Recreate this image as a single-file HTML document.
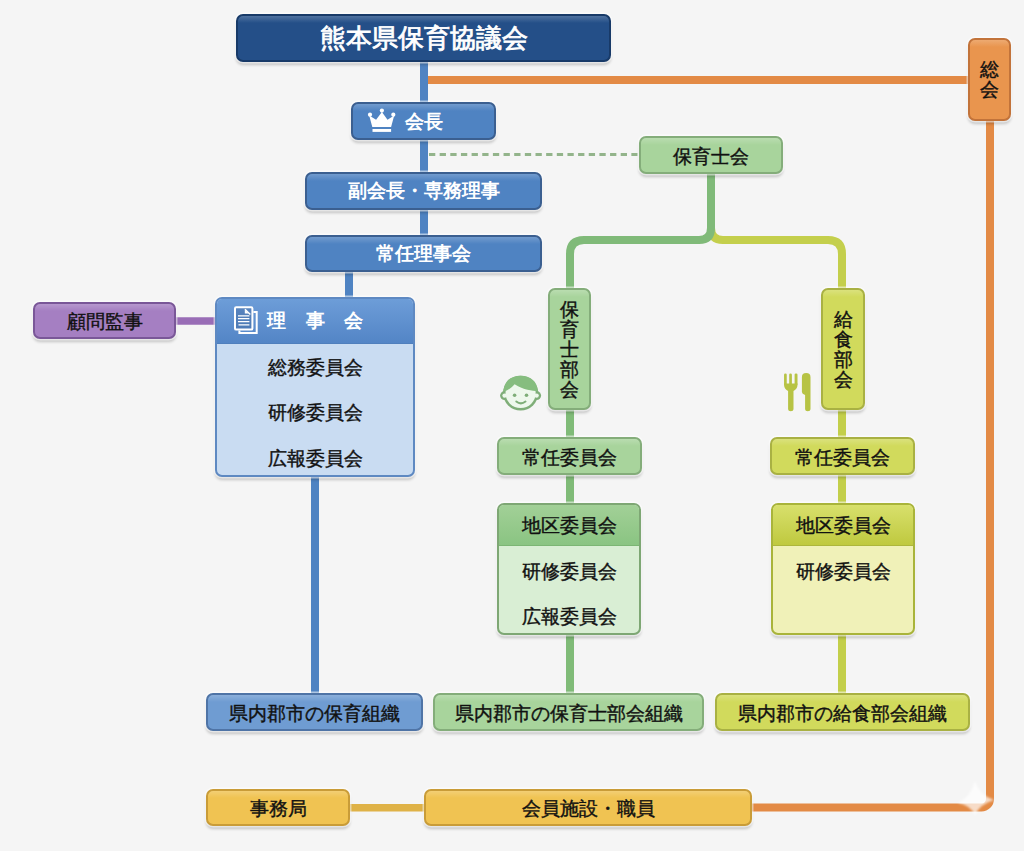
<!DOCTYPE html>
<html><head><meta charset="utf-8">
<style>
html,body{margin:0;padding:0;}
body{width:1024px;height:851px;overflow:hidden;position:relative;background:#f5f5f5;font-family:"Liberation Sans",sans-serif;}
svg.abs{position:absolute;left:0;top:0;}
.b{position:absolute;box-sizing:border-box;border-radius:7px;border:2px solid;display:flex;align-items:center;justify-content:center;box-shadow:0 0 0 1.5px rgba(255,255,255,.55),0 3px 3px rgba(0,0,0,.2);font-size:19px;color:#111;white-space:nowrap;line-height:1;padding-top:2px;background-image:linear-gradient(rgba(255,255,255,.2),rgba(255,255,255,0) 7px);}
.w{color:#fff;font-weight:bold;}
.b.w{padding-top:0;padding-bottom:1px;}
.k{-webkit-text-stroke:0.4px #111;}
.blue{background-color:#4f83c2;border-color:#3b5f90;}
.navy{background-color:#244f88;border-color:#183a68;}
.purple{background-color:#a57fc2;border-color:#7a5798;}
.green{background-color:#a8d49c;border-color:#84ad7a;}
.yellow{background-color:#d1da5c;border-color:#a9b143;}
.orange{background-color:#e9954e;border-color:#c2733a;}
.gold{background-color:#f0c352;border-color:#c99c38;}
.vt{flex-direction:column;}
.vt span{display:block;height:20px;line-height:20px;}
.row{position:absolute;left:0;right:0;text-align:center;height:20px;line-height:20px;}
</style></head><body>
<svg class="abs" width="1024" height="851" viewBox="0 0 1024 851">
  <line x1="424" y1="60" x2="424" y2="236" stroke="#4f83c2" stroke-width="8"/>
  <line x1="349" y1="270" x2="349" y2="299" stroke="#4f83c2" stroke-width="8"/>
  <line x1="315" y1="475" x2="315" y2="695" stroke="#4f83c2" stroke-width="8"/>
  <line x1="428" y1="80" x2="970" y2="80" stroke="#e38a45" stroke-width="8"/>
  <path d="M750 807.5 H981.5 A8.5 8.5 0 0 0 990 799 V119" fill="none" stroke="#e38a45" stroke-width="8"/>
  <line x1="429" y1="154.5" x2="639" y2="154.5" stroke="#93b48b" stroke-width="3" stroke-dasharray="6.3 4.35"/>
  <line x1="175" y1="321" x2="217" y2="321" stroke="#996db6" stroke-width="7.5"/>
  <path d="M711 228 Q711 240 723 240 H828 Q842 240 842 254 V290" fill="none" stroke="#c4cf4c" stroke-width="8"/>
  <path d="M711 172 V228 Q711 240 699 240 H584 Q570 240 570 254 V290" fill="none" stroke="#80ba79" stroke-width="8"/>
  <line x1="570" y1="408" x2="570" y2="695" stroke="#80bb78" stroke-width="8"/>
  <line x1="842" y1="408" x2="842" y2="695" stroke="#c3cf4a" stroke-width="8"/>
  <line x1="348" y1="807.7" x2="426" y2="807.7" stroke="#dfb247" stroke-width="7.5"/>
</svg>

<div class="b navy w" style="left:236px;top:14px;width:375px;height:48px;font-size:26px;font-weight:normal;-webkit-text-stroke:0.8px #fff;padding-bottom:0;">熊本県保育協議会</div>
<div class="b orange vt k" style="left:968px;top:38px;width:43px;height:83px;padding-top:0;"><span>総</span><span>会</span></div>
<div class="b blue w" style="left:351px;top:102px;width:145px;height:38px;justify-content:flex-start;padding-left:52px;padding-bottom:0;">会長</div>
<div class="b green k" style="left:639px;top:136px;width:144px;height:38px;">保育士会</div>
<div class="b blue w" style="left:305px;top:172px;width:237px;height:38px;">副会長・専務理事</div>
<div class="b blue w" style="left:305px;top:235px;width:237px;height:37px;">常任理事会</div>
<div class="b purple k" style="left:33px;top:302px;width:143px;height:37px;">顧問監事</div>

<div class="b" style="left:215px;top:297px;width:200px;height:180px;display:block;background:#c9dcf2;border:2px solid #5e89c2;overflow:hidden;">
  <div class="w" style="position:absolute;left:0;right:0;top:0;height:44px;background:linear-gradient(#6d9dd8,#5385c6);border-bottom:1px solid #4f7fbd;"></div>
  <div class="w" style="position:absolute;left:50px;top:12px;height:20px;line-height:20px;letter-spacing:19.5px;">理事会</div>
  <div class="row k" style="top:59px;">総務委員会</div>
  <div class="row k" style="top:104px;">研修委員会</div>
  <div class="row k" style="top:150px;">広報委員会</div>
</div>

<div class="b green vt k" style="left:548px;top:288px;width:43px;height:122px;"><span>保</span><span>育</span><span>士</span><span>部</span><span>会</span></div>
<div class="b yellow vt k" style="left:821px;top:288px;width:44px;height:122px;"><span>給</span><span>食</span><span>部</span><span>会</span></div>

<div class="b green k" style="left:497px;top:437px;width:145px;height:38px;">常任委員会</div>
<div class="b" style="left:497px;top:503px;width:144px;height:132px;display:block;background:#d9eed4;border:2px solid #7ea774;overflow:hidden;">
  <div style="position:absolute;left:0;right:0;top:0;height:40px;background:linear-gradient(#a2d097,#8ac482);border-bottom:1px solid #7cb574;"></div>
  <div class="row k" style="top:11px;">地区委員会</div>
  <div class="row k" style="top:57px;">研修委員会</div>
  <div class="row k" style="top:102px;">広報委員会</div>
</div>

<div class="b yellow k" style="left:770px;top:437px;width:145px;height:38px;">常任委員会</div>
<div class="b" style="left:771px;top:503px;width:144px;height:132px;display:block;background:#f0f1b8;border:2px solid #a9b43a;overflow:hidden;">
  <div style="position:absolute;left:0;right:0;top:0;height:40px;background:linear-gradient(#d8e06c,#bfc93f);border-bottom:1px solid #adb63c;"></div>
  <div class="row k" style="top:11px;">地区委員会</div>
  <div class="row k" style="top:57px;">研修委員会</div>
</div>

<div class="b k" style="left:206px;top:693px;width:217px;height:38px;background-color:#6f9cd2;border-color:#4f74a6;">県内郡市の保育組織</div>
<div class="b green k" style="left:433px;top:693px;width:271px;height:38px;">県内郡市の保育士部会組織</div>
<div class="b yellow k" style="left:715px;top:693px;width:255px;height:38px;">県内郡市の給食部会組織</div>

<div class="b gold k" style="left:206px;top:789px;width:144px;height:37px;">事務局</div>
<div class="b gold k" style="left:424px;top:789px;width:328px;height:37px;">会員施設・職員</div>

<svg class="abs" width="1024" height="851" viewBox="0 0 1024 851" style="pointer-events:none">
  <!-- crown -->
  <g transform="translate(362 104)" fill="#fff">
    <circle cx="8" cy="10.7" r="2.1"/><circle cx="19.9" cy="6.6" r="2.1"/><circle cx="31.3" cy="10.7" r="2.1"/>
    <path d="M7.2 11.5 L14.1 15.8 L19.9 8 L25.5 15.8 L32.2 11.5 L29.1 23 L10.3 23 Z"/>
    <rect x="10.5" y="25" width="18.6" height="2.9"/>
  </g>
  <!-- document -->
  <g transform="translate(228 302)" fill="none" stroke="#fff" stroke-width="2">
    <path d="M11.4 28.6 V31.1 H28.7 V9.9 H25.4" />
    <rect x="7" y="5.2" width="17.4" height="22.4" rx="1.2" fill="rgba(40,70,120,.25)"/>
    <path d="M17 7.2 L22.3 12.6" stroke-width="1.4"/>
    <path d="M16.8 7.4 V11.4 H20.8 Z" fill="#fff" stroke="none"/>
    <path d="M10 13.8 H21.4 M10 16.6 H21.4 M10 19.6 H21.4 M10.5 22.8 H21.4" stroke-width="1.3"/>
  </g>
  <!-- face -->
  <g transform="translate(496 370)">
    <circle cx="8.6" cy="25.6" r="4.5" fill="#7fae78"/><circle cx="40.6" cy="25.6" r="4.5" fill="#7fae78"/>
    <ellipse cx="24.6" cy="23.1" rx="17.6" ry="17.4" fill="#7fae78"/>
    <ellipse cx="24.6" cy="23.1" rx="15.1" ry="14.9" fill="#eef8ec"/>
    <circle cx="8.6" cy="25.6" r="2.2" fill="#eef8ec"/><circle cx="40.6" cy="25.6" r="2.2" fill="#eef8ec"/>
    <path d="M7.6 21.5 C8 11 15 5.7 24.6 5.7 C34 5.7 41.5 11 41.8 21 C36 21 28 20 18.6 14.3 C15 18.5 11 21 7.6 21.5 Z" fill="#86bd7f"/>
    <circle cx="18.6" cy="25.3" r="1.8" fill="#7fae78"/><circle cx="30.5" cy="25.3" r="1.8" fill="#7fae78"/>
    <path d="M20.3 31.5 Q24.8 35.2 29.5 31.5" fill="none" stroke="#7fae78" stroke-width="2" stroke-linecap="round"/>
  </g>
  <!-- fork & knife -->
  <g transform="translate(780 368)" fill="#b7c344">
    <rect x="4.05" y="5.4" width="2.7" height="12" rx="1.3"/>
    <rect x="9.2" y="5.4" width="2.7" height="12" rx="1.3"/>
    <rect x="14.6" y="5.4" width="2.9" height="12" rx="1.3"/>
    <path d="M4.05 15.5 H17.5 V17 C17.5 20 15.5 22 13.5 23 V41.2 Q13.5 43.2 10.8 43.2 Q8.1 43.2 8.1 41.2 V23 C6 22 4.05 20 4.05 17 Z"/>
    <path d="M21.9 9.3 Q21.9 5.1 26.2 5.1 Q30.5 5.1 30.5 9.3 V41.2 Q30.5 43.2 27.8 43.2 Q25.1 43.2 25.1 41.2 V27 Q21.9 26 21.9 24 Z"/>
  </g>
  <!-- glare -->
  <defs><filter id="gb" x="-50%" y="-50%" width="200%" height="200%"><feGaussianBlur stdDeviation="1.2"/></filter></defs>
  <path d="M975 781 Q979 795 994 800 Q980 804 975 815 Q970 805 958 803 Q971 797 975 781 Z" fill="#fff" fill-opacity=".7" filter="url(#gb)"/>
</svg>
</body></html>
